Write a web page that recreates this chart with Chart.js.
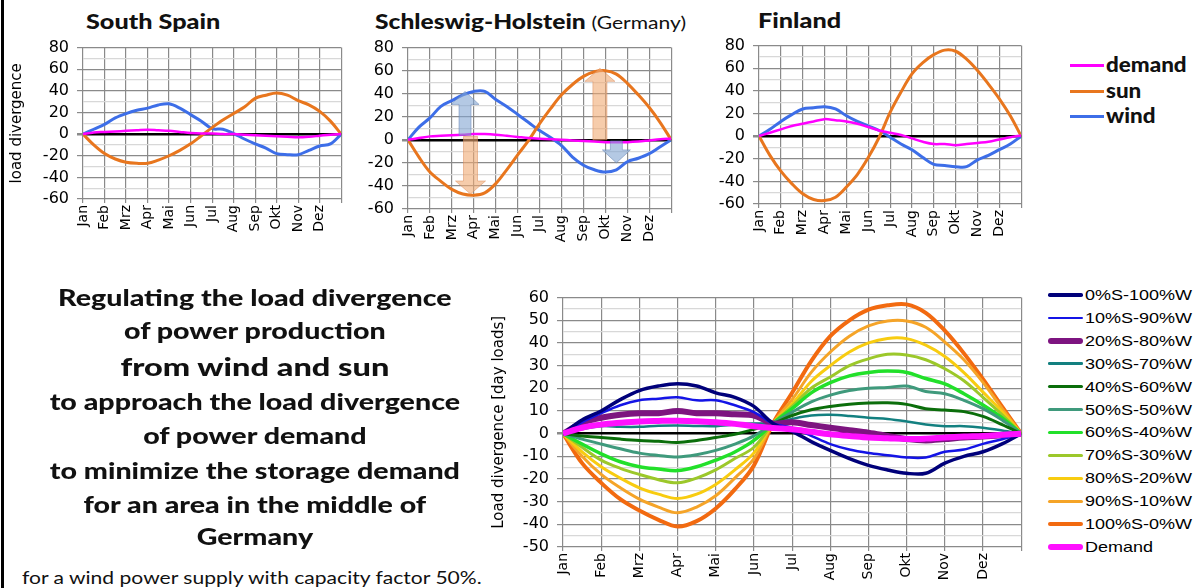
<!DOCTYPE html>
<html>
<head>
<meta charset="utf-8">
<script src="https://cdn.jsdelivr.net/npm/chart.js@4.4.1/dist/chart.umd.min.js"></script>
<style>
  body { margin: 0; background: #fff; width: 1196px; height: 588px; overflow: hidden; position: relative; font-family: Lato, sans-serif; }
  canvas { position: absolute; }
  .t { position: absolute; white-space: nowrap; color: #111; transform-origin: left center; }
  .line { position: absolute; left: 7px; width: 500px; text-align: center; font-weight: 900; font-size: 22px; line-height: 30px; color: #111; transform: scaleX(1.3); transform-origin: 257px center; }
  .leg { position: absolute; font-family: "Liberation Sans", Arial, sans-serif; font-size: 15px; line-height: 18px; white-space: nowrap; }
  .sw { position: absolute; }
</style>
</head>
<body>
<div style="position:absolute;left:1px;top:0;width:3px;height:588px;background:#000"></div>

<div class="t" style="left:86px;top:8px;font-size:21px;font-weight:900;transform:scaleX(1.2)">South Spain</div>
<div class="t" style="left:375px;top:8px;font-size:21px;font-weight:900;transform:scaleX(1.17)">Schleswig-Holstein <span style="font-weight:normal;font-size:18px">(Germany)</span></div>
<div class="t" style="left:758px;top:7px;font-size:21px;font-weight:900;transform:scaleX(1.2)">Finland</div>

<canvas id="c1" width="360" height="232" style="left:0;top:30px"></canvas>
<canvas id="c2" width="330" height="240" style="left:360px;top:30px"></canvas>
<canvas id="c3" width="330" height="240" style="left:710px;top:28px"></canvas>
<canvas id="c4" width="550" height="308" style="left:490px;top:280px"></canvas>

<div id="legTop"></div>
<div id="legBottom"></div>

<div class="line" style="top:283px">Regulating the load divergence</div>
<div class="line" style="top:316px">of power production</div>
<div class="line" style="top:351px;font-size:25px">from wind and sun</div>
<div class="line" style="top:387px">to approach the load divergence</div>
<div class="line" style="top:421px">of power demand</div>
<div class="line" style="top:456px">to minimize the storage demand</div>
<div class="line" style="top:490px">for an area in the middle of</div>
<div class="line" style="top:522px">Germany</div>
<div class="t" style="left:22px;top:566px;font-size:18px;transform:scaleX(1.17)">for a wind power supply with capacity factor 50%.</div>

<script>
// months on the x axis, samples every half month
const months = ['Jan', 'Feb', 'Mrz', 'Apr', 'Mai', 'Jun', 'Jul', 'Aug', 'Sep', 'Okt', 'Nov', 'Dez'];
const xPos = [0, 0.5, 1, 1.5, 2, 2.5, 3, 3.5, 4, 4.5, 5, 5.5, 6, 6.5, 7, 7.5, 8, 8.5, 9, 9.5, 10, 10.5, 11, 11.5, 12];

// South Spain
const spainDemand = [0, 1.5, 2, 2.5, 3, 3.5, 4, 3.5, 3, 2, 1, 0.5, 0.5, 0, 0, -0.5, -1, -1.5, -2, -2.5, -3, -2.5, -1.5, -0.5, 0];
const spainSun = [0, -10, -18, -23, -26, -27, -27, -24, -20, -15, -9, -1.5, 6, 13, 19, 25, 33, 36, 38, 36, 31, 27, 21, 12, 0];
const spainWind = [0, 4.5, 9, 15, 19, 22, 24, 27, 28, 24, 18, 12, 5, 4.5, 0.5, -4.5, -9, -13, -18, -19, -19, -15, -11, -9, 0];

// Schleswig-Holstein
const shDemand = [0, 1.5, 3, 3.5, 4, 4.5, 5, 5, 4.5, 3.5, 2.5, 1.5, 1, 0.5, 0, -0.5, -1, -1.5, -2, -2, -2, -1.5, -0.5, 0.5, 1];
const shSun = [0, -15, -28, -36, -43, -47, -48, -46, -38, -26, -13, -0.5, 14, 27, 39, 48, 55, 59, 60, 57, 49, 39, 28, 15, 0];
const shWind = [0, 11, 19, 29, 34, 39, 42, 42, 35, 29, 22, 15, 8, 2, -5, -15, -22, -26, -28, -26, -19, -16, -12, -6, 0];
// arrows in the Schleswig-Holstein chart: month position, start and end value
const shArrows = [
  { x: 2.6, from: 4, to: 42, kind: 'wind' },
  { x: 2.85, from: 3, to: -47, kind: 'sun' },
  { x: 8.75, from: 0, to: 62, kind: 'sun' },
  { x: 9.5, from: -1, to: -20, kind: 'wind' }
];

// Finland
const finDemand = [0, 3, 6, 9, 11, 13, 15, 14, 13, 11, 8, 5, 3, 1, -2, -5, -7, -7, -8, -7, -6, -5, -3, -1, 0.5];
const finSun = [0, -17, -31, -42, -51, -56, -57, -54, -45, -34, -19, -1, 21, 39, 55, 65, 72, 76, 75, 68, 58, 46, 33, 18, 0];
const finWind = [0, 6, 13, 19, 24, 25, 26, 24, 18, 13, 9, 5, -1, -7, -12, -19, -25, -26, -27, -27, -21, -17, -12, -7, 0];

// middle of Germany, sun/wind mixes
const mixNames = ['0%S-100%W', '10%S-90%W', '20%S-80%W', '30%S-70%W', '40%S-60%W', '50%S-50%W',
  '60%S-40%W', '70%S-30%W', '80%S-20%W', '90%S-10%W', '100%S-0%W', 'Demand'];
const mix0 = [0, 6, 10, 15, 19, 21, 22, 21, 18, 16, 12, 4.5, 1, -3.5, -7.4, -11, -14, -16, -17.5, -17.5, -13, -10, -8, -4.5, 0];
const mix10 = [0, 5, 9, 12.5, 14.7, 15.4, 16, 14.7, 14.7, 12.5, 9.5, 4.5, 2.5, -1, -4.6, -7, -8.5, -9.5, -10.5, -10.5, -8, -7, -4.5, -2.5, 0];
const mix20 = [0, 4.7, 7, 8.3, 9, 9, 10, 9, 9, 8.5, 8, 4.5, 5, 3.8, 2.6, 1.5, 0.4, -1, -2.4, -3, -2.4, -1.7, -1.3, -0.7, 0];
const mix30 = [0, 2, 3.3, 3, 3, 3.5, 3.6, 3.4, 3.3, 4, 4.5, 4.5, 6.5, 8, 8.3, 7.8, 7, 6.5, 5.4, 4, 3.3, 3.3, 2.6, 1.4, 0];
const mix40 = [0, -1, -1.7, -2.4, -3, -3.4, -3.9, -3, -1.7, -0.3, 1.9, 4.5, 8, 10.5, 12, 13, 13.5, 13.6, 12.9, 11, 10.4, 9.7, 7.6, 4, 0];
const mix50 = [0, -2.4, -4.6, -6.7, -8.6, -9.6, -10.3, -9.3, -7.4, -4.6, -1, 4.5, 9.5, 14, 17, 19, 20, 20.4, 21, 18.6, 17.6, 14.7, 11, 6, 0];
const mix60 = [0, -4.6, -8.9, -12.4, -14.6, -15.6, -16.3, -14.6, -11.7, -8.1, -3, 4.5, 11, 18, 22.5, 25.5, 27, 27.6, 27, 24.3, 21.9, 17.6, 12.6, 6.9, 0];
const mix70 = [0, -6, -11.7, -15.3, -18, -20.3, -21.7, -19.6, -16, -11, -6, 4.5, 12, 20, 25, 30, 33, 35, 34.7, 32.6, 28.6, 23.3, 16, 8.3, 0];
const mix80 = [0, -8, -14.6, -19.6, -23.9, -26.7, -28.6, -26.7, -22.4, -16, -8.5, 4.5, 13, 23, 30, 36, 40, 42, 41.9, 39, 34, 26.9, 18.3, 9.7, 0];
const mix90 = [0, -10, -18, -23.9, -28.9, -32.4, -34.9, -32.4, -27.4, -19.6, -11, 4.5, 15, 27, 36, 43, 47.5, 49.7, 49.7, 46.9, 40.4, 32.6, 22.6, 11, 0];
const mix100 = [0, -13, -21.7, -28.9, -33.9, -38, -41, -38.6, -33, -24.6, -14, 4.5, 18, 32, 43, 50, 54.7, 56.6, 57, 53.3, 45.4, 35.4, 24, 11.9, 0];
const mixDemand = [0, 2.6, 4, 4.8, 5.4, 5.6, 5.7, 5.5, 5, 4.3, 3.3, 2.5, 1.9, 0.8, -0.3, -1, -1.7, -2, -2.4, -2.2, -1.7, -1.3, -1, -0.5, 0];

const pts = arr => xPos.map((x, i) => ({ x: x, y: arr[i] }));

const yFont = { family: 'DejaVu Sans', size: 16 };
const xFont = { family: 'DejaVu Sans', size: 14 };
const darkGrid = '#8a8a8a';
const lightGrid = '#d8d8d8';

function xAxis(height) {
  return {
    type: 'linear', min: 0, max: 12,
    ticks: { stepSize: 1, autoSkip: false, maxRotation: 90, minRotation: 90, padding: 2,
      color: '#000', font: xFont, callback: v => months[v] || '' },
    grid: { color: darkGrid, lineWidth: 1.2, tickLength: 4 },
    border: { display: false },
    afterFit: s => { s.height = height; }
  };
}

function yAxis(width, min, max, minor, major, title) {
  return {
    min: min, max: max,
    ticks: { stepSize: minor, autoSkip: false, color: '#000', font: yFont, padding: 8,
      callback: v => (v % major === 0 ? v : '') },
    grid: {
      color: c => c.tick.value === 0 ? '#000' : (c.tick.value % major === 0 ? darkGrid : lightGrid),
      lineWidth: c => c.tick.value === 0 ? 2.5 : 1.2,
      tickColor: c => c.tick.value % major === 0 ? darkGrid : 'rgba(0,0,0,0)',
      tickLength: 6
    },
    border: { display: false },
    title: title ? { display: true, text: title, color: '#000', font: { family: 'DejaVu Sans', size: 15 }, padding: 0 } : { display: false },
    afterFit: s => { s.width = width; }
  };
}

function line(label, arr, color, width, order) {
  return { label: label, data: pts(arr), borderColor: color, backgroundColor: color,
    borderWidth: width, pointRadius: 0, tension: 0.35, order: order || 0 };
}

// translucent arrows drawn with the chart's own scales
const arrowPlugin = {
  id: 'arrows',
  afterDatasetsDraw(chart) {
    const xs = chart.scales.x, ys = chart.scales.y, ctx = chart.ctx;
    shArrows.forEach(a => {
      const px = xs.getPixelForValue(a.x);
      const y0 = ys.getPixelForValue(a.from);
      const y1 = ys.getPixelForValue(a.to);
      const dir = y1 < y0 ? -1 : 1;
      const shaft = a.kind === 'wind' ? 6 : 7;
      const head = a.kind === 'wind' ? 14 : 15;
      const hl = 13;
      ctx.save();
      ctx.beginPath();
      ctx.moveTo(px - shaft, y0);
      ctx.lineTo(px - shaft, y1 - dir * hl);
      ctx.lineTo(px - head, y1 - dir * hl);
      ctx.lineTo(px, y1);
      ctx.lineTo(px + head, y1 - dir * hl);
      ctx.lineTo(px + shaft, y1 - dir * hl);
      ctx.lineTo(px + shaft, y0);
      ctx.closePath();
      ctx.fillStyle = a.kind === 'wind' ? 'rgba(130,165,210,0.6)' : 'rgba(240,170,115,0.6)';
      ctx.strokeStyle = a.kind === 'wind' ? 'rgba(100,130,180,0.5)' : 'rgba(220,140,90,0.5)';
      ctx.fill();
      ctx.stroke();
      ctx.restore();
    });
  }
};

const baseOpts = (pad, scales) => ({
  responsive: false, animation: false, devicePixelRatio: 1,
  layout: { padding: pad },
  plugins: { legend: { display: false }, tooltip: { enabled: false } },
  scales: scales
});

const DEMAND = '#ff00ff', SUN = '#e8761e', WIND = '#3d6ee8';

new Chart(document.getElementById('c1'), {
  type: 'line',
  data: { datasets: [
    line('demand', spainDemand, DEMAND, 2.5, 0),
    line('sun', spainSun, SUN, 3, 1),
    line('wind', spainWind, WIND, 3, 2)
  ] },
  options: baseOpts({ top: 12, right: 8, left: 8, bottom: 0 },
    { x: xAxis(63), y: yAxis(75, -60, 80, 10, 20, 'load divergence') })
});

new Chart(document.getElementById('c2'), {
  type: 'line',
  data: { datasets: [
    line('demand', shDemand, DEMAND, 2.5, 0),
    line('sun', shSun, SUN, 3, 1),
    line('wind', shWind, WIND, 3, 2)
  ] },
  options: baseOpts({ top: 13, right: 9, left: 0, bottom: 0 },
    { x: xAxis(61), y: yAxis(48, -60, 80, 10, 20, null) }),
  plugins: [arrowPlugin]
});

new Chart(document.getElementById('c3'), {
  type: 'line',
  data: { datasets: [
    line('demand', finDemand, DEMAND, 2.5, 0),
    line('sun', finSun, SUN, 3, 1),
    line('wind', finWind, WIND, 3, 2)
  ] },
  options: baseOpts({ top: 13, right: 9, left: 0, bottom: 0 },
    { x: xAxis(64), y: yAxis(49, -60, 80, 10, 20, null) })
});

const mixSeries = [mix0, mix10, mix20, mix30, mix40, mix50, mix60, mix70, mix80, mix90, mix100, mixDemand];
const mixColors = ['#00007a', '#1414e6', '#7d1480', '#138080', '#0b6e0b', '#3f9a7c', '#22e02a', '#9cc82a', '#f8cc10', '#f5a428', '#f26a10', '#ff10ff'];
const mixWidths = [3.5, 2.5, 6, 2.5, 3, 3, 3.5, 3, 3, 3, 4, 6];

new Chart(document.getElementById('c4'), {
  type: 'line',
  data: { datasets: mixSeries.map((arr, i) =>
    line(mixNames[i], arr, mixColors[i], mixWidths[i], i === 11 ? -1 : i)) },
  options: baseOpts({ top: 13, right: 7, left: 0, bottom: 0 },
    { x: xAxis(41), y: yAxis(73, -50, 60, 5, 10, 'Load divergence [day loads]') })
});

// legends
const legTop = document.getElementById('legTop');
[['demand', DEMAND, 65], ['sun', SUN, 91], ['wind', WIND, 116]].forEach(([name, col, y]) => {
  legTop.insertAdjacentHTML('beforeend',
    `<div class="sw" style="left:1070px;top:${y - 1.5}px;width:34px;height:3px;background:${col}"></div>` +
    `<div class="t" style="left:1106px;top:${y - 13}px;font-size:20px;font-weight:900;line-height:24px;transform:scaleX(1.12)">${name}</div>`);
});

const legBottom = document.getElementById('legBottom');
mixNames.forEach((name, i) => {
  const y = 295 + i * 22.9;
  const h = mixWidths[i];
  legBottom.insertAdjacentHTML('beforeend',
    `<div class="sw" style="left:1048px;top:${y - h / 2}px;width:35px;height:${h}px;background:${mixColors[i]};border-radius:${h / 2}px"></div>` +
    `<div class="leg" style="left:1085px;top:${y - 9}px;transform:scaleX(1.2);transform-origin:left">${name}</div>`);
});
</script>
</body>
</html>
